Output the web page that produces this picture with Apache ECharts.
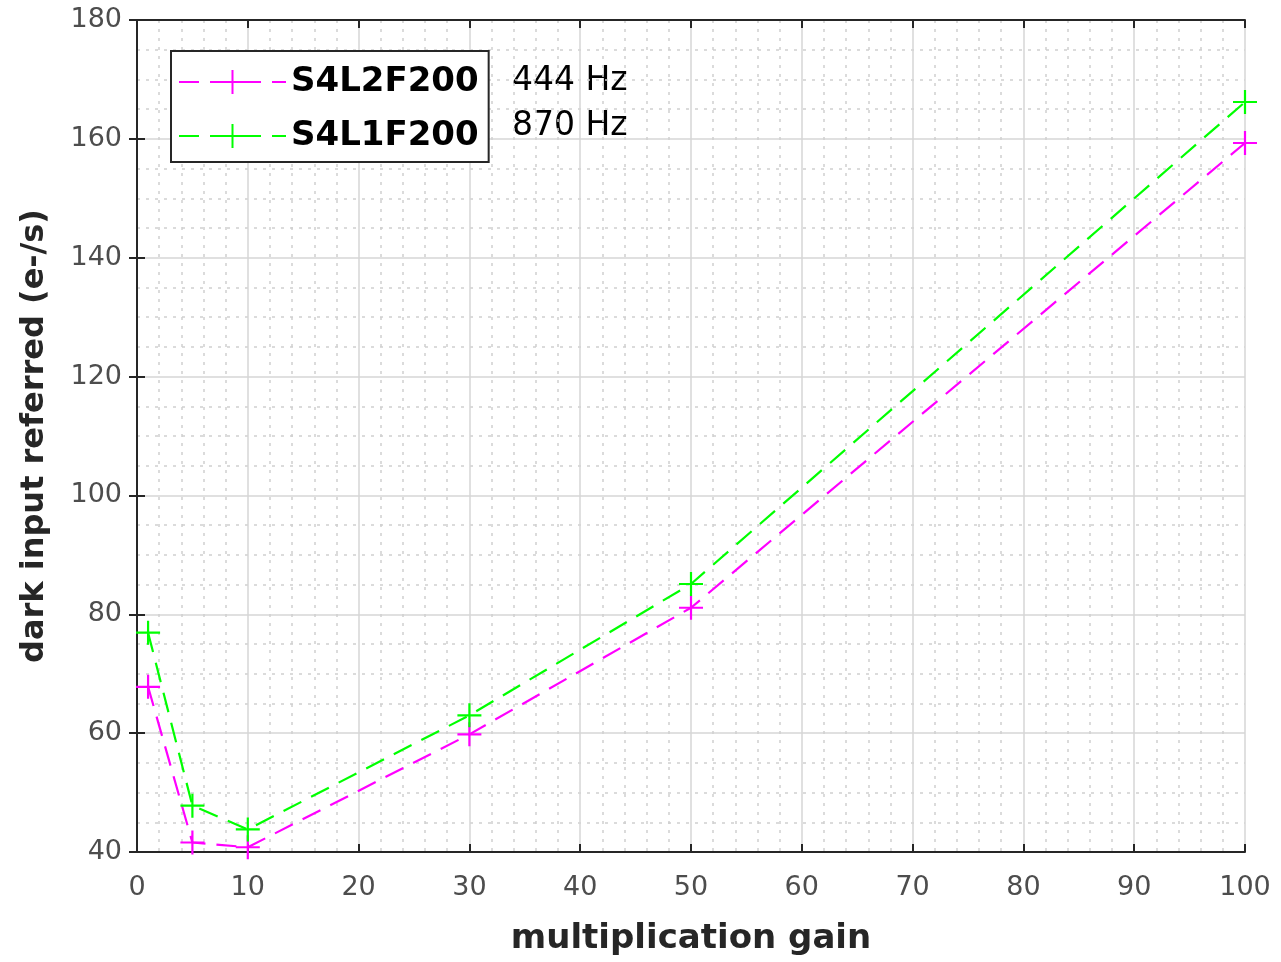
<!DOCTYPE html>
<html lang="en" style="height: 100%">
<head>
  <meta charset="utf-8">
</head>
<body style="height: 100%; margin: 0; background: #fff">
  <div id="container" style="width: 1281px; height: 962px"></div>

  <script type="text/javascript" src="https://fastly.jsdelivr.net/npm/echarts@6/dist/echarts.min.js"></script>
  <script type="text/javascript">
    // multiplication gain values
    var gains = [1, 5, 10, 30, 50, 100];
    // dark input referred (e-/s)
    var s4l2f200 = [67.8, 41.6, 40.8, 59.8, 81.1, 159.3];
    var s4l1f200 = [76.9, 47.8, 43.8, 63.0, 85.1, 166.2];
    var seriesNames = ['S4L2F200', 'S4L1F200'];
    var rateLabels = ['444 Hz', '870 Hz'];

    var dom = document.getElementById('container');
    var myChart = echarts.init(dom, null, { renderer: 'canvas' });

    var plusSymbol = 'path://M0,10L20,10M10,0L10,20';
    var fontFam = '"DejaVu Sans", sans-serif';

    function pairs(ys) {
      return gains.map(function (g, i) { return [g, ys[i]]; });
    }

    function lineSeries(name, ys, color) {
      return {
        name: name,
        type: 'line',
        data: pairs(ys),
        symbol: plusSymbol,
        symbolSize: 24,
        showSymbol: true,
        itemStyle: { color: color, borderColor: color, borderWidth: 2.2 },
        lineStyle: { color: color, width: 2.2, type: [20, 11] },
        z: 5
      };
    }

    var axisLine = { show: true, lineStyle: { color: '#262626', width: 2 } };
    var tick = { show: true, inside: true, length: 8, lineStyle: { color: '#262626', width: 2 } };

    var option = {
      animation: false,
      backgroundColor: '#fff',
      grid: { left: 137, right: 36, top: 20, bottom: 110, show: false },
      legend: {
        left: 171,
        top: 51,
        orient: 'vertical',
        data: seriesNames,
        itemWidth: 107,
        itemHeight: 30,
        itemGap: 20,
        padding: [14, 10, 9, 7],
        backgroundColor: '#fff',
        borderColor: '#262626',
        borderWidth: 2,
        borderRadius: 0,
        textStyle: { fontSize: 34, fontWeight: 'bold', color: '#000', fontFamily: fontFam }
      },
      xAxis: [
        {
          type: 'value', min: 0, max: 100, interval: 10,
          name: 'multiplication gain', nameLocation: 'middle', nameGap: 70,
          nameTextStyle: { fontSize: 34, fontWeight: 'bold', color: '#262626', fontFamily: fontFam },
          axisLine: axisLine, axisTick: tick,
          axisLabel: { fontSize: 27, color: '#4d4d4d', margin: 22, fontFamily: fontFam },
          splitLine: { show: true, lineStyle: { color: '#d6d6d6', width: 1.5 } },
          minorTick: { show: false, splitNumber: 5 },
          minorSplitLine: { show: true, lineStyle: { color: '#cfcfcf', width: 1.5, type: [3, 6] } }
        },
        {
          type: 'value', min: 0, max: 100, interval: 10, position: 'top',
          axisLine: axisLine, axisTick: tick, axisLabel: { show: false },
          splitLine: { show: false }
        }
      ],
      yAxis: [
        {
          type: 'value', min: 40, max: 180, interval: 20,
          name: 'dark input referred (e-/s)', nameLocation: 'middle', nameGap: 86,
          nameTextStyle: { fontSize: 32, fontWeight: 'bold', color: '#262626', fontFamily: fontFam },
          axisLine: axisLine, axisTick: tick,
          axisLabel: { fontSize: 27, color: '#4d4d4d', margin: 15, fontFamily: fontFam },
          splitLine: { show: true, lineStyle: { color: '#d6d6d6', width: 1.5 } },
          minorTick: { show: false, splitNumber: 4 },
          minorSplitLine: { show: true, lineStyle: { color: '#cfcfcf', width: 1.5, type: [3, 6] } }
        },
        {
          type: 'value', min: 40, max: 180, interval: 20, position: 'right',
          axisLine: axisLine, axisTick: tick, axisLabel: { show: false },
          splitLine: { show: false }
        }
      ],
      graphic: [
        {
          type: 'text', left: 512, top: 65,
          style: { text: rateLabels[0], fontSize: 33, fill: '#000', fontFamily: fontFam }
        },
        {
          type: 'text', left: 512, top: 110,
          style: { text: rateLabels[1], fontSize: 33, fill: '#000', fontFamily: fontFam }
        }
      ],
      series: [
        lineSeries(seriesNames[0], s4l2f200, '#ff00ff'),
        lineSeries(seriesNames[1], s4l1f200, '#00ff00')
      ]
    };

    myChart.setOption(option);
    window.addEventListener('resize', myChart.resize);
  </script>
</body>
</html>
